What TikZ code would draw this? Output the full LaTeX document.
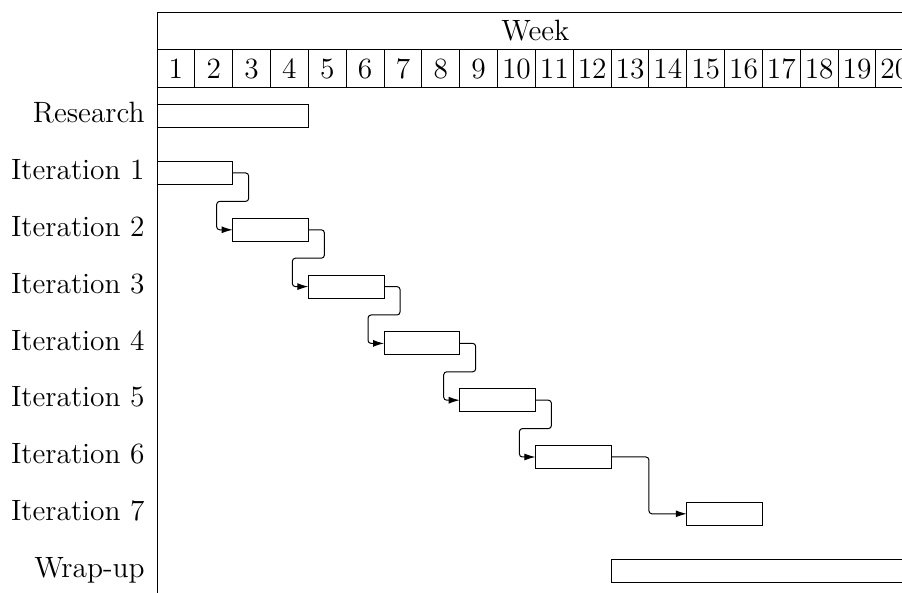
\documentclass[tikz,border=0pt]{standalone}
\usetikzlibrary{arrows.meta,calc}
\begin{document}
\begin{tikzpicture}[x=0.5pt,y=-0.5pt,
  font=\fontsize{14.7}{17}\selectfont,
  gridline/.style={line width=0.5pt},
  num/.style={anchor=base,inner sep=0pt},
  lab/.style={anchor=base east,inner sep=0pt},
  bar/.style={draw,line width=0.5pt,inner sep=0pt,outer sep=0pt,minimum height=11.5pt,anchor=west},
  link/.style={line width=0.5pt,rounded corners=1.5pt,-{Latex[length=5.5pt,width=3.5pt]}}]
\def\cw{37.84}
\useasboundingbox (0,0) rectangle (902,593);
\begin{scope}
\clip (0,0) rectangle (902,593);
% header grid
\draw[gridline] (157,12.5) -- (930,12.5);
\draw[gridline] (157,50) -- (930,50);
\draw[gridline] (157,88) -- (930,88);
\draw[gridline] (157,12.5) -- (157,593);
\foreach \i in {1,...,20} \draw[gridline] ({157+\i*\cw},50) -- ({157+\i*\cw},88);
\node[num] (week) at ({157+10*\cw},41) {Week};
\foreach \i in {1,...,20} \node[num] (w\i) at ({157+(\i-0.5)*\cw},79) {\i};
% labels
\node[lab] (l0) at (145,123.0) {Research};
\node[lab] (l1) at (145,179.8) {Iteration 1};
\node[lab] (l2) at (145,236.6) {Iteration 2};
\node[lab] (l3) at (145,293.4) {Iteration 3};
\node[lab] (l4) at (145,350.2) {Iteration 4};
\node[lab] (l5) at (145,407.0) {Iteration 5};
\node[lab] (l6) at (145,463.8) {Iteration 6};
\node[lab] (l7) at (145,520.6) {Iteration 7};
\node[lab] (l8) at (145,577.4) {Wrap-up};
% bars
\node[bar,minimum width=75.68pt] (b0) at (157,116.2) {};
\node[bar,minimum width=37.84pt] (b1) at (157,173.0) {};
\node[bar,minimum width=37.84pt] (b2) at ({157+2*\cw},229.8) {};
\node[bar,minimum width=37.84pt] (b3) at ({157+4*\cw},286.6) {};
\node[bar,minimum width=37.84pt] (b4) at ({157+6*\cw},343.4) {};
\node[bar,minimum width=37.84pt] (b5) at ({157+8*\cw},400.2) {};
\node[bar,minimum width=37.84pt] (b6) at ({157+10*\cw},457.0) {};
\node[bar,minimum width=37.84pt] (b7) at ({157+14*\cw},513.8) {};
\node[bar,minimum width=151.36pt] (b8) at ({157+12*\cw},570.6) {};
% links
\foreach \a/\b in {1/2,2/3,3/4,4/5,5/6}
  \draw[link] (b\a.east) -- ++(16,0) |- ($(b\b.west)+(-16,-28.4)$) |- (b\b.west);
\draw[link] (b6.east) -| ($(b6.east)!0.5!(b7.west)$) |- (b7.west);
\end{scope}
\end{tikzpicture}
\end{document}
